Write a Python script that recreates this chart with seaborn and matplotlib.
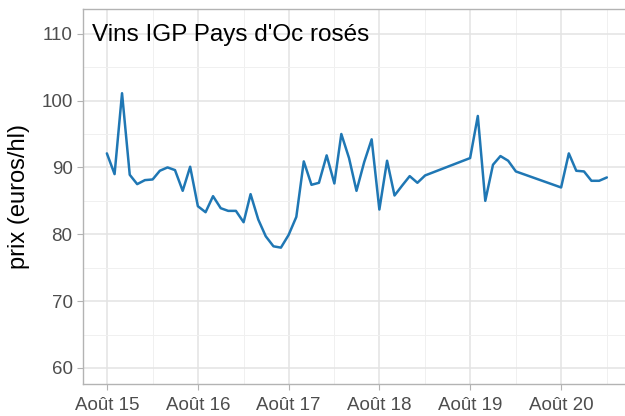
import matplotlib
matplotlib.use('Agg')
import matplotlib.pyplot as plt
import matplotlib.dates as mdates
import numpy as np
import pandas as pd
import seaborn as sns

# donnees mensuelles (prix en euros/hl), trous mars-juillet 2019 et mars-juillet 2020
mois = ['2015-08', '2015-09', '2015-10', '2015-11', '2015-12',
        '2016-01', '2016-02', '2016-03', '2016-04', '2016-05', '2016-06',
        '2016-07', '2016-08', '2016-09', '2016-10', '2016-11', '2016-12',
        '2017-01', '2017-02', '2017-03', '2017-04', '2017-05', '2017-06',
        '2017-07', '2017-08', '2017-09', '2017-10', '2017-11', '2017-12',
        '2018-01', '2018-02', '2018-03', '2018-04', '2018-05', '2018-06',
        '2018-07', '2018-08', '2018-09', '2018-10', '2018-11', '2018-12',
        '2019-01', '2019-02',
        '2019-08', '2019-09', '2019-10', '2019-11', '2019-12',
        '2020-01', '2020-02',
        '2020-08', '2020-09', '2020-10', '2020-11', '2020-12',
        '2021-01', '2021-02']
prix = [92.1, 89.0, 101.1, 88.9, 87.5,
        88.1, 88.2, 89.5, 90.0, 89.6, 86.5,
        90.1, 84.2, 83.3, 85.7, 83.9, 83.5,
        83.5, 81.8, 86.0, 82.2, 79.7, 78.2,
        78.0, 79.9, 82.6, 90.9, 87.4, 87.7,
        91.8, 87.6, 95.0, 91.4, 86.5, 90.8,
        94.2, 83.7, 91.0, 85.8, 87.3, 88.7,
        87.7, 88.8,
        91.4, 97.7, 85.0, 90.4, 91.7,
        91.0, 89.4,
        87.0, 92.1, 89.5, 89.4, 88.0,
        88.0, 88.5]

tick_dates = ['2015-08-01', '2016-08-01', '2017-08-01', '2018-08-01', '2019-08-01', '2020-08-01']
tick_labels = ['Août 15', 'Août 16', 'Août 17', 'Août 18', 'Août 19', 'Août 20']
minor_dates = ['2016-02-01', '2017-02-01', '2018-02-01', '2019-02-01', '2020-02-01', '2021-02-01']
y_ticks = [60, 70, 80, 90, 100, 110]

df = pd.DataFrame({'date': pd.to_datetime(mois), 'prix': prix})

sns.set_theme(style='white')
plt.rcParams['font.family'] = ['Liberation Sans', 'DejaVu Sans']

fig = plt.figure(figsize=(6.25, 4.16), dpi=100)
ax = fig.add_axes([83 / 625, 32 / 416, 543 / 625, 375 / 416])

sns.lineplot(data=df, x='date', y='prix', ax=ax, color='#1f77b4', linewidth=1.8)

ax.set_xlim(mdates.date2num(pd.Timestamp('2015-04-27')), mdates.date2num(pd.Timestamp('2021-04-19')))
ax.set_ylim(57.6, 113.7)

ax.set_xticks(mdates.date2num(pd.to_datetime(tick_dates)))
ax.set_xticklabels(tick_labels)
ax.set_xticks(mdates.date2num(pd.to_datetime(minor_dates)), minor=True)
ax.set_yticks(y_ticks)
ax.set_yticks([65, 75, 85, 95, 105], minor=True)

ax.grid(which='major', color='#E3E3E3', linewidth=1.1)
ax.grid(which='minor', color='#F0F0F0', linewidth=0.7)
ax.set_axisbelow(True)

ax.tick_params(axis='both', which='major', labelsize=13.5, labelcolor='#4D4D4D',
               colors='#B3B3B3', length=4, width=0.8, bottom=True, left=True)
ax.tick_params(axis='x', which='major', pad=5)
for lab in ax.get_xticklabels() + ax.get_yticklabels():
    lab.set_color('#4D4D4D')
ax.tick_params(axis='both', which='minor', length=0)

for side in ['left', 'bottom', 'top', 'right']:
    ax.spines[side].set_color('#B3B3B3')
    ax.spines[side].set_linewidth(1.0)

ax.set_xlabel('')
ax.set_ylabel('prix (euros/hl)', fontsize=17, color='black', labelpad=8)

ax.text(0.017, 0.960, "Vins IGP Pays d'Oc rosés", transform=ax.transAxes,
        fontsize=17.5, color='black', ha='left', va='top')

plt.savefig('out.png', dpi=100)
